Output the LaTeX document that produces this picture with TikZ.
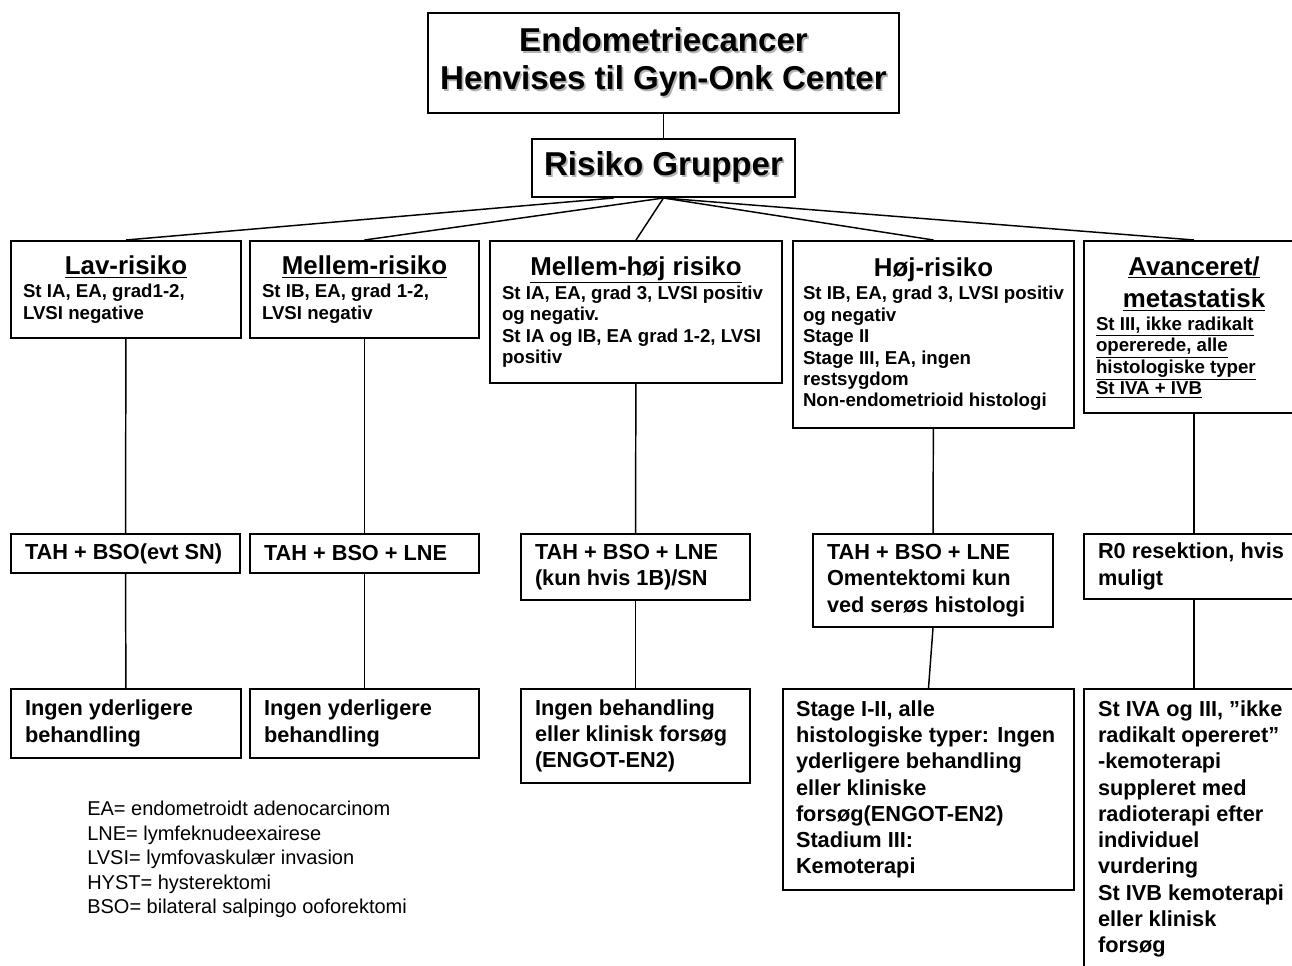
\documentclass[tikz,border=0pt]{standalone}
\usepackage{fontspec}
\setmainfont{Liberation Sans}
\newcommand\titlef{\fontsize{24.8pt}{28.5pt}\selectfont\bfseries}
\newcommand\headf{\fontsize{19.4pt}{23pt}\selectfont\bfseries}
\newcommand\smallf{\fontsize{14pt}{16.1pt}\selectfont\bfseries}
\newcommand\mainf{\fontsize{16.3pt}{19.7pt}\selectfont\bfseries}
\newcommand\legf{\fontsize{15pt}{18.4pt}\selectfont}
\newcommand\shadowed[1]{\leavevmode\rlap{\hspace{1.3pt}\raisebox{-1.3pt}{\color{black!30}#1}}#1}
\newcommand\grouphead[1]{\noindent\hbox to\hsize{\hss\headf #1\hss}}
\tikzset{
  box/.style n args={3}{draw, line width=1.5pt, anchor=north west, align=flush left,
    inner xsep=#3*0.75pt, inner ysep=0pt,
    text width=#1*0.75pt-#3*1.5pt, minimum height=#2*0.75pt},
  bigbox/.style n args={2}{draw, line width=1.5pt, anchor=north west, align=center,
    minimum width=#1*0.75pt, minimum height=#2*0.75pt, font=\titlef}
}
\begin{document}
\begin{tikzpicture}[x=0.75pt,y=-0.75pt]
      \useasboundingbox (0,0) rectangle (1292,965);
      \clip (0,0) rectangle (1292,965);
      \node[bigbox={471}{100}] (top) at (427,12) {\shadowed{Endometriecancer}\\\shadowed{Henvises til Gyn-Onk Center}};
      \node[bigbox={263}{58}] (risk) at (531,138) {\shadowed{Risiko Grupper}};
      \node[box={230}{97}{12},font=\smallf] (lav) at (10,240) {\grouphead{\underline{Lav-risiko}}\\[1pt]
        St IA, EA,  grad1-2,\\LVSI negative};
      \node[box={229}{97}{12},font=\smallf] (mel) at (249,240) {\grouphead{\underline{Mellem-risiko}}\\[1pt]
        St IB, EA, grad 1-2,\\LVSI negativ};
      \node[box={292}{142}{12},font=\smallf] (mhoj) at (489,240) {\grouphead{\underline{Mellem-høj risiko}}\\[1pt]
        St IA, EA, grad 3, LVSI positiv\\og negativ.\\St IA og IB, EA grad 1-2, LVSI\\positiv};
      \node[box={281}{187}{10},font=\smallf] (hoj) at (792,240) {\grouphead{Høj-risiko}\\[1pt]
        St IB, EA, grad 3, LVSI positiv\\og negativ\\Stage II\\Stage III,  EA, ingen\\restsygdom\\Non-endometrioid histologi};
      \node[box={220}{172}{12},font=\smallf] (avc) at (1083,240) {\grouphead{\underline{Avanceret/}}\\[7pt]\grouphead{\underline{metastatisk}}\\[1pt]
        \underline{St III, ikke radikalt}\\\underline{opererede, alle}\\\underline{histologiske typer}\\\underline{St IVA + IVB}};
      \node[box={229}{39}{14},font=\mainf] (tlav) at (10,533) {TAH + BSO(evt SN)};
      \node[box={229}{39}{14},font=\mainf] (tmel) at (249,533) {TAH + BSO + LNE};
      \node[box={229}{66}{14},font=\mainf] (tmhoj) at (520,533) {TAH + BSO + LNE\\(kun hvis 1B)/SN};
      \node[box={240}{93}{14},font=\mainf] (thoj) at (812,533) {TAH + BSO + LNE\\Omentektomi  kun\\ved serøs histologi};
      \node[box={220}{65}{14},font=\mainf] (tavc) at (1083,533) {R0 resektion, hvis\\muligt};
      \node[box={230}{69}{14},font=\mainf] (blav) at (10,688) {Ingen yderligere\\behandling};
      \node[box={229}{69}{14},font=\mainf] (bmel) at (249,688) {Ingen yderligere\\behandling};
      \node[box={229}{94}{14},font=\mainf] (bmhoj) at (520,688) {Ingen behandling\\eller klinisk forsøg\\(ENGOT-EN2)};
      \node[box={291}{201}{13},font=\mainf] (bhoj) at (782,688) {Stage I-II, alle\\histologiske typer: Ingen\\yderligere behandling\\eller kliniske\\forsøg(ENGOT-EN2)\\Stadium III:\\Kemoterapi};
      \node[box={220}{280}{14},font=\mainf,inner ysep=4pt] (bavc) at (1083,688) {St IVA og III, ”ikke\\radikalt opereret”\\-kemoterapi\\suppleret med\\radioterapi efter\\individuel\\vurdering\\St IVB kemoterapi\\eller klinisk\\forsøg};
      \node[anchor=north west, align=left, inner sep=0pt, font=\legf] (legend) at (87,801)
        {EA= endometroidt adenocarcinom\\LNE= lymfeknudeexairese\\LVSI= lymfovaskulær invasion\\HYST= hysterektomi\\BSO= bilateral salpingo ooforektomi};
      \begin{scope}[line width=1.1pt]
        \draw (top) to (risk);
        \draw (risk.211) to (lav.north);
        \draw (risk.south) to (mel.north);
        \draw (risk.south) to (mhoj.north);
        \draw (risk.south) to (hoj.north);
        \draw (risk.south) to (avc.north);
        \draw (lav) to (tlav);
        \draw (mel) to (tmel);
        \draw (mhoj) to (tmhoj);
        \draw (hoj) to (thoj);
        \draw (avc) to (tavc);
        \draw (tlav) to (blav);
        \draw (tmel) to (bmel);
        \draw (tmhoj) to (bmhoj);
        \draw (thoj.south) to (bhoj.north);
        \draw (tavc) to (bavc);
      \end{scope}
    \end{tikzpicture}
\end{document}
